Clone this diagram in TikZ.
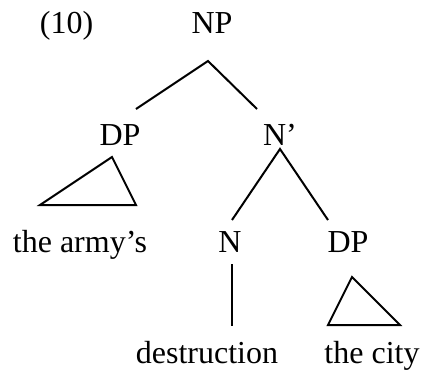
\documentclass[tikz,border=0pt]{standalone}
\usepackage{fontspec}
\setmainfont{Liberation Serif}
\begin{document}
\begin{tikzpicture}[x=0.5pt,y=-0.5pt,
    lbl/.style={anchor=base,inner sep=0pt,font=\fontsize{16}{19}\selectfont},
    branch/.style={line width=1pt}]
  \useasboundingbox (0,0) rectangle (424,371);

  % Labels
  \node [lbl] (ex) at (66.5,33) {(10)};
  \node [lbl] (np) at (212,33) {NP};
  \node [lbl] (dp) at (120,145) {DP};
  \node [lbl] (nbar) at (280,145) {N’};
  \node [lbl] (army) at (80,252) {the army’s};
  \node [lbl] (n) at (230,252) {N};
  \node [lbl] (dpobj) at (348,252) {DP};
  \node [lbl] (destr) at (207,363) {destruction};
  \node [lbl] (city) at (372,363) {the city};

  % Branch ends
  \coordinate (np-b) at (208,61);
  \coordinate (dp-t) at (136,109);
  \coordinate (nbar-t) at (257,109);
  \coordinate (nbar-b) at (280,149);
  \coordinate (n-t) at (232,220);
  \coordinate (dpobj-t) at (328,220);
  \coordinate (n-b) at (232,264);
  \coordinate (destr-t) at (232,326);

  % Branches
  \draw [branch] (dp-t) -- (np-b) -- (nbar-t);
  \draw [branch] (n-t) -- (nbar-b) -- (dpobj-t);
  \draw [branch] (n-b) -- (destr-t);

  % Triangles
  \draw [branch] (112,157) -- (40,205) -- (136,205) -- cycle;
  \draw [branch] (352,277) -- (328,325) -- (400,325) -- cycle;
\end{tikzpicture}
\end{document}
